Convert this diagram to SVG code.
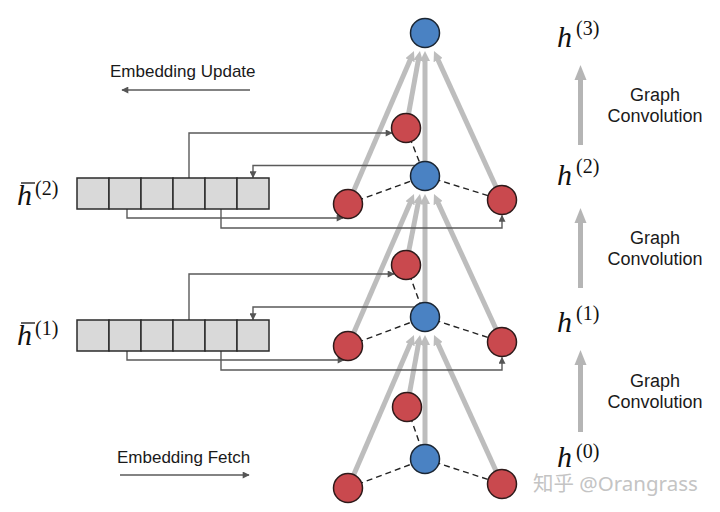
<svg xmlns="http://www.w3.org/2000/svg" width="720" height="512" viewBox="0 0 720 512">
<defs>
<style>
.gc{stroke:#bdbdbd;stroke-width:5;fill:none;marker-end:url(#ga)}
.gv{stroke:#b5b5b5;stroke-width:5;fill:none}
.gh{fill:#b5b5b5}
.ds{stroke:#222;stroke-width:1.4;stroke-dasharray:6 4;fill:none}
.cn{stroke:#5a5a5a;stroke-width:1.4;fill:none;marker-end:url(#sa)}
.blue{fill:#4a82c3;stroke:#1b2633;stroke-width:1.5}
.red{fill:#c9494e;stroke:#2e1a1a;stroke-width:1.5}
.cell{fill:#d9d9d9;stroke:#2b2b2b;stroke-width:1.5}
.sans{font-family:"Liberation Sans",Arial,sans-serif;fill:#1a1a1a}
.mi{font-family:"Liberation Serif","Times New Roman",serif;font-style:italic;font-size:30px;fill:#111}
.sup{font-family:"Liberation Serif","Times New Roman",serif;font-size:20px;fill:#111}
</style>
<marker id="ga" viewBox="0 0 10 10" refX="3" refY="5" markerWidth="10" markerHeight="10" markerUnits="userSpaceOnUse" orient="auto">
<path d="M0,0 L10,5 L0,10 z" fill="#bdbdbd"/>
</marker>
<marker id="sa" viewBox="0 0 10 10" refX="9" refY="5" markerWidth="8" markerHeight="7" markerUnits="userSpaceOnUse" orient="auto">
<path d="M0,0 L10,5 L0,10 z" fill="#555"/>
</marker>
</defs>
<rect width="720" height="512" fill="#fff"/>

<g id="connectors">
<line class="gc" x1="348" y1="204" x2="411.2" y2="57.4"/>
<line class="gc" x1="406" y1="128" x2="418.7" y2="57.9"/>
<line class="gc" x1="425" y1="176" x2="425" y2="58"/>
<line class="gc" x1="502" y1="200" x2="436.9" y2="57.4"/>
<line class="gc" x1="348" y1="346" x2="411.2" y2="200.4"/>
<line class="gc" x1="406" y1="265" x2="418.6" y2="200.9"/>
<line class="gc" x1="425" y1="317" x2="425" y2="201"/>
<line class="gc" x1="502" y1="342" x2="436.9" y2="200.4"/>
<line class="gc" x1="348" y1="488" x2="411.2" y2="341.4"/>
<line class="gc" x1="407" y1="407" x2="418.8" y2="341.9"/>
<line class="gc" x1="425" y1="459" x2="425" y2="342"/>
<line class="gc" x1="502" y1="484" x2="436.9" y2="341.4"/>

<line class="ds" x1="406" y1="128" x2="425" y2="176"/>
<line class="ds" x1="348" y1="204" x2="425" y2="176"/>
<line class="ds" x1="425" y1="176" x2="502" y2="200"/>
<line class="ds" x1="406" y1="265" x2="425" y2="317"/>
<line class="ds" x1="348" y1="346" x2="425" y2="317"/>
<line class="ds" x1="425" y1="317" x2="502" y2="342"/>
<line class="ds" x1="407" y1="407" x2="425" y2="459"/>
<line class="ds" x1="348" y1="488" x2="425" y2="459"/>
<line class="ds" x1="425" y1="459" x2="502" y2="484"/>

<path class="cn" d="M189,178 V133 H392"/>
<path class="cn" d="M415,165.5 H253 V177.5"/>
<path class="cn" d="M127,209 V218 H343"/>
<path class="cn" d="M221,209 V228 H502 V215.5"/>
<path class="cn" d="M189,320 V274 H394"/>
<path class="cn" d="M414,307 H253 V319.5"/>
<path class="cn" d="M127,351 V360 H344"/>
<path class="cn" d="M221,351 V370 H502 V357.5"/>

<path class="cn" d="M250,90 H122"/>
<path class="cn" d="M120,475 H249"/>

<line class="gv" x1="580.5" y1="145" x2="580.5" y2="78"/>
<polygon class="gh" points="580.5,65 574.5,80 586.5,80"/>
<line class="gv" x1="580.5" y1="288" x2="580.5" y2="221"/>
<polygon class="gh" points="580.5,208 574.5,223 586.5,223"/>
<line class="gv" x1="580.5" y1="432" x2="580.5" y2="363"/>
<polygon class="gh" points="580.5,350 574.5,365 586.5,365"/>
</g>

<g id="node-h3"><circle class="blue" cx="425" cy="33" r="14.5"/></g>

<g id="node-l2-top"><circle class="red" cx="406" cy="128" r="14.5"/></g>
<g id="node-l2-center"><circle class="blue" cx="425" cy="176" r="14.5"/></g>
<g id="node-l2-left"><circle class="red" cx="348" cy="204" r="14.5"/></g>
<g id="node-l2-right"><circle class="red" cx="502" cy="200" r="14.5"/></g>

<g id="node-l1-top"><circle class="red" cx="406" cy="265" r="14.5"/></g>
<g id="node-l1-center"><circle class="blue" cx="425" cy="317" r="14.5"/></g>
<g id="node-l1-left"><circle class="red" cx="348" cy="346" r="14.5"/></g>
<g id="node-l1-right"><circle class="red" cx="502" cy="342" r="14.5"/></g>

<g id="node-l0-top"><circle class="red" cx="407" cy="407" r="14.5"/></g>
<g id="node-l0-center"><circle class="blue" cx="425" cy="459" r="14.5"/></g>
<g id="node-l0-left"><circle class="red" cx="348" cy="488" r="14.5"/></g>
<g id="node-l0-right"><circle class="red" cx="502" cy="484" r="14.5"/></g>

<g id="memory-2">
<rect class="cell" x="77" y="178" width="32" height="31"/>
<rect class="cell" x="109" y="178" width="32" height="31"/>
<rect class="cell" x="141" y="178" width="32" height="31"/>
<rect class="cell" x="173" y="178" width="32" height="31"/>
<rect class="cell" x="205" y="178" width="32" height="31"/>
<rect class="cell" x="237" y="178" width="32" height="31"/>
</g>
<g id="memory-1">
<rect class="cell" x="77" y="320" width="32" height="31"/>
<rect class="cell" x="109" y="320" width="32" height="31"/>
<rect class="cell" x="141" y="320" width="32" height="31"/>
<rect class="cell" x="173" y="320" width="32" height="31"/>
<rect class="cell" x="205" y="320" width="32" height="31"/>
<rect class="cell" x="237" y="320" width="32" height="31"/>
</g>

<g id="label-hbar2">
<line x1="21" y1="183" x2="35" y2="183" stroke="#111" stroke-width="1.3"/>
<text class="mi" x="17" y="205">h</text>
<text class="sup" x="35" y="195">(2)</text>
</g>
<g id="label-hbar1">
<line x1="21" y1="323" x2="35" y2="323" stroke="#111" stroke-width="1.3"/>
<text class="mi" x="17" y="345">h</text>
<text class="sup" x="35" y="335">(1)</text>
</g>

<g id="label-h3"><text class="mi" x="557" y="47">h</text><text class="sup" x="576" y="35">(3)</text></g>
<g id="label-h2"><text class="mi" x="557" y="185">h</text><text class="sup" x="576" y="173">(2)</text></g>
<g id="label-h1"><text class="mi" x="557" y="332">h</text><text class="sup" x="576" y="320">(1)</text></g>
<g id="label-h0"><text class="mi" x="557" y="467">h</text><text class="sup" x="576" y="458">(0)</text></g>

<g id="gc-labels" text-anchor="middle">
<text class="sans" x="655" y="101" font-size="18">Graph</text>
<text class="sans" x="655" y="122" font-size="18">Convolution</text>
<text class="sans" x="655" y="244" font-size="18">Graph</text>
<text class="sans" x="655" y="265" font-size="18">Convolution</text>
<text class="sans" x="655" y="387" font-size="18">Graph</text>
<text class="sans" x="655" y="408" font-size="18">Convolution</text>
</g>

<g id="legend">
<text class="sans" x="110" y="77" font-size="17">Embedding Update</text>
<text class="sans" x="117" y="463" font-size="17">Embedding Fetch</text>
</g>

<text x="533" y="491" font-family="'Noto Sans','Noto Sans CJK SC',sans-serif" font-size="20.5" fill="#c4c4c4">知乎 @Orangrass</text>
</svg>
